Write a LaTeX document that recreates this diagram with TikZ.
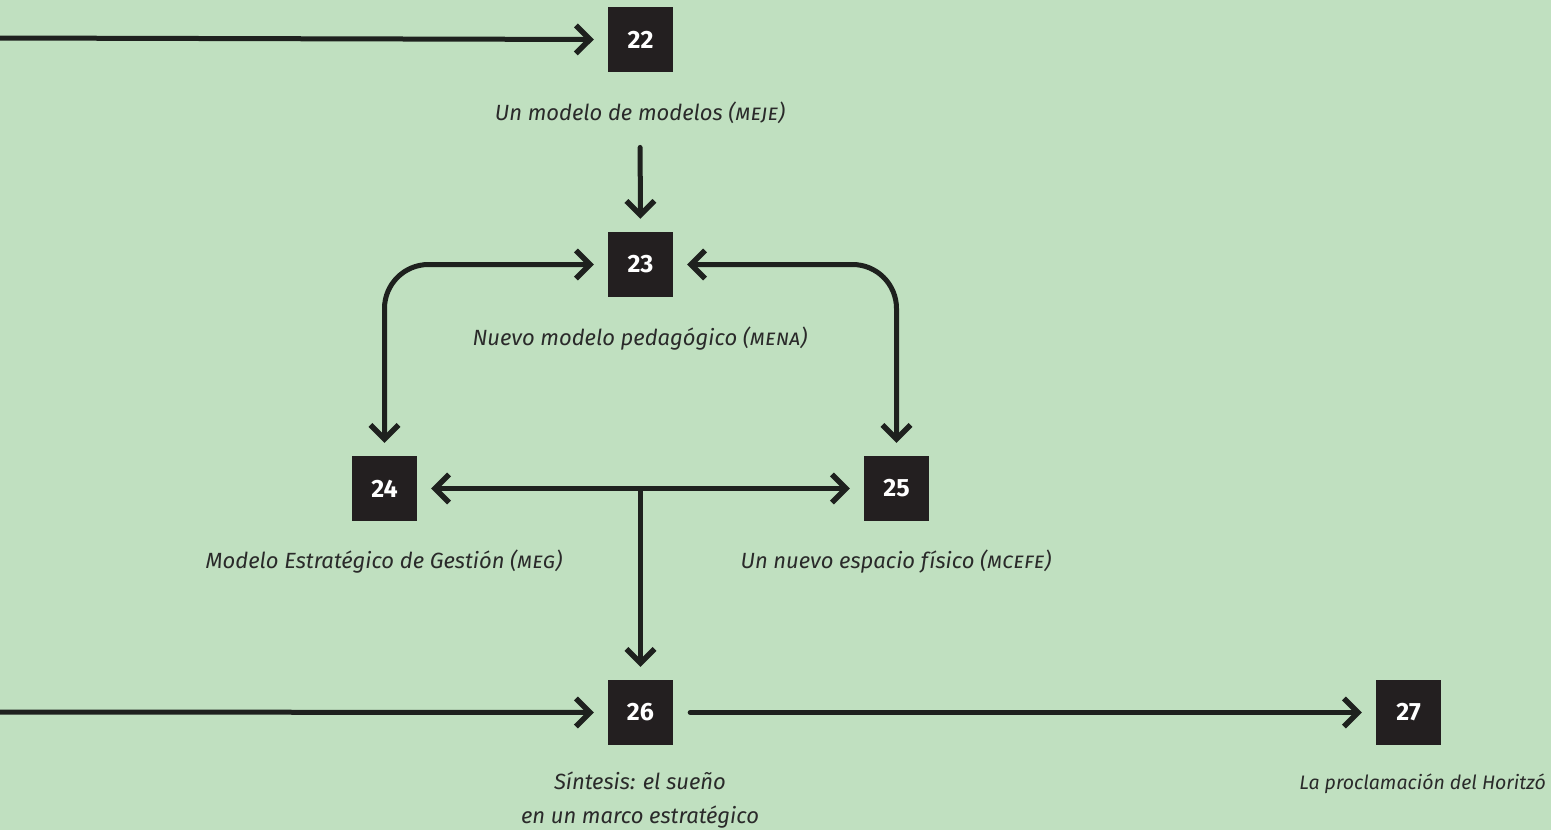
\documentclass[tikz,border=0pt]{standalone}
\usepackage{fontspec}
\setmainfont{Fira Sans}
\usetikzlibrary{arrows.meta,calc}
\definecolor{bg}{HTML}{C0E0C0}
\definecolor{boxcol}{HTML}{231F20}
\definecolor{ink}{HTML}{1E211E}
\definecolor{txt}{HTML}{2A2A2A}
\newcommand{\abbr}[1]{\textsc{#1}}
\tikzset{
  numbox/.style={fill=boxcol,text=white,minimum size=65pt,inner sep=0pt,
    font=\fontsize{25}{25}\selectfont\bfseries},
  lbl/.style={text=txt,font=\fontsize{22}{26}\selectfont\itshape,anchor=base,inner sep=0pt},
  barb/.tip={Straight Barb[length=14pt,width=28pt,line width=5.5pt]},
  chalk/.style={draw=ink,line width=5pt,line cap=round,line join=round,-barb},
  chalkboth/.style={chalk,barb-barb},
}
\begin{document}
\begin{tikzpicture}[x=1pt,y=-1pt]
  \fill[bg] (0,0) rectangle (1551,830);
  \useasboundingbox (0,0) rectangle (1551,830);

  % numbered boxes
  \node[numbox] (n22) at (640.5,39.5)  {22};
  \node[numbox] (n23) at (640.5,264.5) {23};
  \node[numbox] (n24) at (384.5,488.5) {24};
  \node[numbox] (n25) at (896.5,488.5) {25};
  \node[numbox] (n26) at (640.5,712.5) {26};
  \node[numbox] (n27) at (1408.5,712.5){27};

  % captions
  \node[lbl] (l22) at (640,120) {Un modelo de modelos (\abbr{meje})};
  \node[lbl] (l23) at (640,345) {Nuevo modelo pedagógico (\abbr{mena})};
  \node[lbl] (l24) at (384,568) {Modelo Estratégico de Gestión (\abbr{meg})};
  \node[lbl] (l25) at (896,568) {Un nuevo espacio físico (\abbr{mcefe})};
  \node[lbl] (l26a) at (640,789) {Síntesis: el sueño};
  \node[lbl] (l26b) at (640,823) {en un marco estratégico};
  \node[lbl,anchor=base east,font=\fontsize{19.5}{24}\selectfont\itshape] (l27) at (1546,789) {La proclamación del Horitzó};

  % loose ends entering from the left
  \coordinate (in22) at (-5,38);
  \coordinate (in26) at (-5,712);
  \coordinate (j) at (n26 |- n24);

  % connectors
  \draw[chalk,shorten >=14pt] (in22) -- (n22.west);
  \draw[chalk,shorten <=24pt,shorten >=13pt] (l22.south) -- (n23.north);
  \draw[chalkboth,rounded corners=44pt,shorten <=14pt,shorten >=13pt] (n23.west) -| (n24.north);
  \draw[chalkboth,rounded corners=44pt,shorten <=14pt,shorten >=13pt] (n23.east) -| (n25.north);
  \draw[chalkboth,shorten <=14pt,shorten >=14pt] (n24.east) -- (n25.west);
  \draw[chalk,shorten >=13pt] (j) -- (n26.north);
  \draw[chalk,shorten >=14pt] (in26) -- (n26.west);
  \draw[chalk,shorten <=17pt,shorten >=14pt] (n26.east) -- (n27.west);
\end{tikzpicture}
\end{document}
